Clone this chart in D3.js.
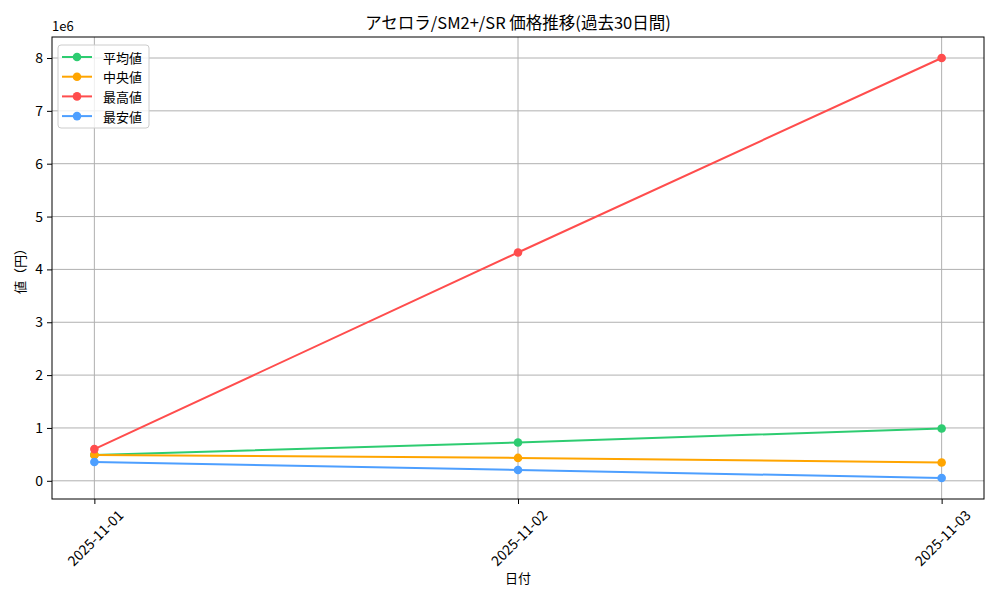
<!DOCTYPE html>
<html>
<head>
<meta charset="utf-8">
<script src="https://cdn.jsdelivr.net/npm/d3@7"></script>
<style>
  body { margin: 0; background: #fff; }
  text { font-family: "Noto Sans CJK JP", "DejaVu Sans", sans-serif; fill: #000; }
</style>
</head>
<body>
<div id="chart"></div>
<script>
// data
const dates = ['2025-11-01', '2025-11-02', '2025-11-03'];
const meanValues = [490000, 725000, 990000];
const medianValues = [490000, 433000, 345000];
const maxValues = [600000, 4320000, 8000000];
const minValues = [357000, 205000, 53000];
const yTicks = [0, 1, 2, 3, 4, 5, 6, 7, 8];

const seriesNames = ['平均値', '中央値', '最高値', '最安値'];
const seriesColors = ['#2ecc71', '#ffa500', '#ff4d4d', '#4d9fff'];
const seriesValues = [meanValues, medianValues, maxValues, minValues];

const width = 1000, height = 600;
const margin = { top: 37, right: 16, bottom: 101, left: 52 };
const innerW = width - margin.left - margin.right;
const innerH = height - margin.top - margin.bottom;

const svg = d3.select('#chart').append('svg')
  .attr('width', width)
  .attr('height', height);

const parse = d3.timeParse('%Y-%m-%d');
const xs = dates.map(parse);

// matplotlib style 5% margins
const xExt = d3.extent(xs);
const xPad = (xExt[1] - xExt[0]) * 0.05;
const x = d3.scaleTime()
  .domain([new Date(+xExt[0] - xPad), new Date(+xExt[1] + xPad)])
  .range([0, innerW]);

const allVals = seriesValues.flat();
const yMin = d3.min(allVals), yMax = d3.max(allVals);
const yPad = (yMax - yMin) * 0.05;
const y = d3.scaleLinear()
  .domain([yMin - yPad, yMax + yPad])
  .range([innerH, 0]);

const g = svg.append('g').attr('transform', `translate(${margin.left},${margin.top})`);

// grid
g.append('g').selectAll('line').data(yTicks).join('line')
  .attr('x1', 0).attr('x2', innerW)
  .attr('y1', d => y(d * 1e6)).attr('y2', d => y(d * 1e6))
  .attr('stroke', '#b0b0b0').attr('stroke-width', 1);
g.append('g').selectAll('line').data(xs).join('line')
  .attr('x1', d => x(d)).attr('x2', d => x(d))
  .attr('y1', 0).attr('y2', innerH)
  .attr('stroke', '#b0b0b0').attr('stroke-width', 1);

// axes
const yAxis = g.append('g')
  .call(d3.axisLeft(y).tickValues(yTicks.map(t => t * 1e6)).tickFormat(d => d / 1e6).tickSizeOuter(0).tickSize(5).tickPadding(4));
yAxis.select('.domain').remove();
yAxis.selectAll('text').style('font-size', '14px').style('font-family', '"Noto Sans CJK JP", sans-serif');
yAxis.selectAll('line').attr('stroke', '#000');

const xAxis = g.append('g').attr('transform', `translate(0,${innerH})`)
  .call(d3.axisBottom(x).tickValues(xs).tickFormat(d3.timeFormat('%Y-%m-%d')).tickSizeOuter(0).tickSize(5));
xAxis.select('.domain').remove();
xAxis.selectAll('line').attr('stroke', '#000');
xAxis.selectAll('text')
  .style('font-size', '14px')
  .style('font-family', '"Noto Sans CJK JP", sans-serif')
  .each(function () {
    const t = d3.select(this);
    const L = this.getComputedTextLength();
    const h = 14;
    const bh = (L + h) / Math.SQRT2;
    t.attr('y', null).attr('dy', null)
      .attr('text-anchor', 'middle')
      .attr('dominant-baseline', 'central')
      .attr('transform', `translate(0,${8 + bh / 2}) rotate(-45)`);
  });

// lines and markers
seriesValues.forEach((vals, i) => {
  const pts = xs.map((d, j) => [d, vals[j]]);
  g.append('path')
    .datum(pts)
    .attr('fill', 'none')
    .attr('stroke', seriesColors[i])
    .attr('stroke-width', 2)
    .attr('d', d3.line().x(d => x(d[0])).y(d => y(d[1])));
  g.append('g').selectAll('circle').data(pts).join('circle')
    .attr('cx', d => x(d[0])).attr('cy', d => y(d[1]))
    .attr('r', 4.3)
    .attr('fill', seriesColors[i]);
});

// frame
g.append('rect')
  .attr('width', innerW).attr('height', innerH)
  .attr('fill', 'none').attr('stroke', '#000').attr('stroke-width', 1);

// offset text
g.append('text').attr('x', 0).attr('y', -6)
  .style('font-size', '13px').text('1e6');

// title and labels
svg.append('text')
  .attr('x', margin.left + innerW / 2).attr('y', 29)
  .attr('text-anchor', 'middle')
  .style('font-size', '16.5px')
  .text('アセロラ/SM2+/SR 価格推移(過去30日間)');

svg.append('text')
  .attr('x', margin.left + innerW / 2).attr('y', 583)
  .attr('text-anchor', 'middle')
  .style('font-size', '13px')
  .text('日付');

svg.append('text')
  .attr('transform', `translate(25,${margin.top + innerH / 2}) rotate(-90)`)
  .attr('text-anchor', 'middle')
  .style('font-size', '13px')
  .text('値（円）');

// legend
const lg = g.append('g').attr('transform', 'translate(6,8)');
lg.append('rect')
  .attr('width', 91).attr('height', 83).attr('rx', 3)
  .attr('fill', 'rgba(255,255,255,0.8)')
  .attr('stroke', '#cccccc').attr('stroke-width', 1);
seriesNames.forEach((name, i) => {
  const row = lg.append('g').attr('transform', `translate(0,${12 + i * 19.7})`);
  row.append('line').attr('x1', 4).attr('x2', 34).attr('y1', 0).attr('y2', 0)
    .attr('stroke', seriesColors[i]).attr('stroke-width', 2);
  row.append('circle').attr('cx', 19).attr('cy', 0).attr('r', 4.3).attr('fill', seriesColors[i]);
  row.append('text').attr('x', 45).attr('y', 0).attr('dominant-baseline', 'central')
    .style('font-size', '13px').text(name);
});
</script>
</body>
</html>
